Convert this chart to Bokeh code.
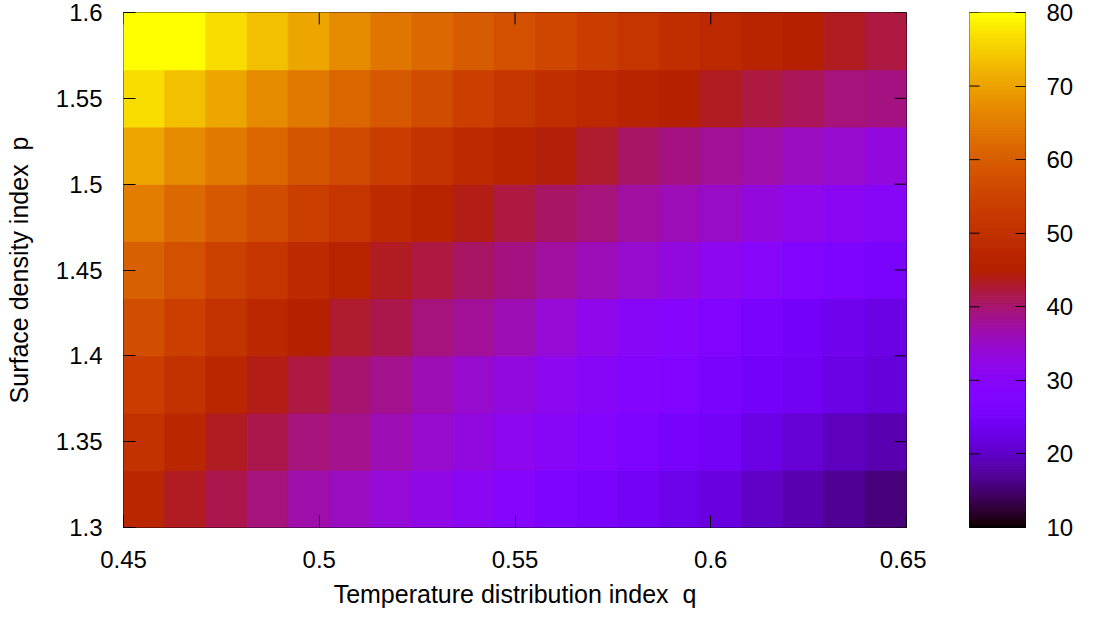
import numpy as np
from bokeh.plotting import figure
from bokeh.layouts import row
from bokeh.models import Range1d, FixedTicker, ColumnDataSource
from bokeh.transform import linear_cmap
from bokeh.embed import file_html
from bokeh.resources import INLINE

# ---- axis ranges and tick labels ----
q_range = (0.45, 0.65)
p_range = (1.3, 1.6)
cb_range = (10, 80)

q_ticks = [0.45, 0.5, 0.55, 0.6, 0.65]
q_tick_labels = ["0.45", "0.5", "0.55", "0.6", "0.65"]
p_ticks = [1.3, 1.35, 1.4, 1.45, 1.5, 1.55, 1.6]
p_tick_labels = ["1.3", "1.35", "1.4", "1.45", "1.5", "1.55", "1.6"]
cb_ticks = [10, 20, 30, 40, 50, 60, 70, 80]
cb_tick_labels = ["10", "20", "30", "40", "50", "60", "70", "80"]

# ---- map values, one row per p band (lowest p first), 19 q bands each ----
row_p1 = [47, 43.5, 41.5, 39.5, 37, 35.5, 34, 32.5, 31, 29, 27, 26, 24.5, 23, 22, 20, 18.5, 17, 15.5]
row_p2 = [50.5, 47, 43.5, 41.5, 39.5, 38.5, 36.5, 34.5, 33, 31.5, 30, 28.5, 27, 25.5, 24.5, 22.5, 21, 19.5, 18.5]
row_p3 = [53.5, 50.5, 47, 44, 42, 40, 38.5, 36.5, 34.5, 33, 31.5, 30, 28.5, 27.5, 26, 25, 24, 22.5, 21.5]
row_p4 = [57, 54, 51, 47.5, 45, 43, 41.5, 39.5, 38, 36.5, 34, 32, 30, 29, 27.5, 26, 25, 23.5, 22.5]
row_p5 = [60.5, 57.5, 54.5, 51.5, 48.5, 46, 43.5, 42, 40.5, 39, 37.5, 36, 34.5, 33, 31.5, 29.5, 28, 27, 26]
row_p6 = [65, 62, 59, 56.5, 54, 51.5, 48.5, 46.5, 44, 42, 40.5, 39.5, 37.5, 36, 35, 33.5, 32, 31, 30]
row_p7 = [70.5, 67, 64.5, 61.5, 58.5, 56, 53.5, 51, 48.5, 46.5, 44.5, 43, 40.5, 39, 38, 37, 35.5, 34.5, 33.5]
row_p8 = [76.5, 73.5, 70.5, 67, 64.5, 61.5, 59, 56.5, 54, 51.5, 49.5, 48, 46.5, 45, 43.5, 42, 41, 39.5, 39]
row_p9 = [81.5, 80, 76.5, 73.5, 70.5, 67, 64, 62, 59.5, 57.5, 55.5, 53.5, 51.5, 49.5, 48, 46.5, 45, 43.5, 42]

grid = np.array([row_p1, row_p2, row_p3, row_p4, row_p5, row_p6, row_p7, row_p8, row_p9])
n_p, n_q = grid.shape


def rgbformulae_7_5_15(x):
    """gnuplot's default pm3d palette: sqrt(x), x^3, sin(2*pi*x)."""
    r = np.sqrt(x)
    g = x ** 3
    b = np.clip(np.sin(2 * np.pi * x), 0, 1)
    return "#%02x%02x%02x" % tuple(int(round(255 * c)) for c in (r, g, b))


palette = [rgbformulae_7_5_15(x) for x in np.linspace(0, 1, 256)]

q_edges = np.linspace(*q_range, n_q + 1)
p_edges = np.linspace(*p_range, n_p + 1)
jj, ii = np.meshgrid(np.arange(n_p), np.arange(n_q), indexing="ij")
cells = ColumnDataSource(dict(
    left=q_edges[ii.ravel()], right=q_edges[ii.ravel() + 1],
    bottom=p_edges[jj.ravel()], top=p_edges[jj.ravel() + 1],
    value=grid.ravel(),
))
cmap = linear_cmap("value", palette, cb_range[0], cb_range[1])

FONT = "Liberation Sans"
TICK_SIZE = "24px"
LABEL_SIZE = "25px"

FRAME_W, FRAME_H = 783, 515
TICK_LEN = 12
CB_W, CB_TICK_LEN = 56, 10


def style_axis(ax, tick_len, standoff):
    ax.major_tick_in = tick_len
    ax.major_tick_out = 0
    ax.minor_tick_line_color = None
    ax.major_tick_line_color = "black"
    ax.major_tick_line_width = 1
    ax.axis_line_color = None
    ax.major_label_text_font = FONT
    ax.major_label_text_color = "black"
    ax.major_label_text_font_size = TICK_SIZE
    ax.major_label_standoff = standoff


# ---- main map ----
p = figure(
    frame_width=FRAME_W, frame_height=FRAME_H,
    x_range=Range1d(*q_range), y_range=Range1d(*p_range),
    min_border_left=123, min_border_right=20, min_border_top=12, min_border_bottom=91,
    output_backend="svg", toolbar_location=None,
    x_axis_label="Temperature distribution index \u00a0q",
    y_axis_label="Surface density index \u00a0p",
)
p.grid.visible = False
p.outline_line_color = "black"
p.outline_line_width = 1
p.outline_line_alpha = 1
p.background_fill_color = "white"
p.border_fill_color = "white"

p.quad(left="left", right="right", bottom="bottom", top="top", source=cells,
       fill_color=cmap, line_color=cmap, line_width=1)

# mirrored tick marks on the top and right edges of the frame
dy = TICK_LEN * (p_range[1] - p_range[0]) / FRAME_H
dx = TICK_LEN * (q_range[1] - q_range[0]) / FRAME_W
p.segment(x0=q_ticks, x1=q_ticks, y0=[p_range[1]] * len(q_ticks),
          y1=[p_range[1] - dy] * len(q_ticks), line_color="black", line_width=1)
p.segment(x0=[q_range[1]] * len(p_ticks), x1=[q_range[1] - dx] * len(p_ticks),
          y0=p_ticks, y1=p_ticks, line_color="black", line_width=1)

p.xaxis.ticker = FixedTicker(ticks=q_ticks)
p.xaxis.major_label_overrides = dict(zip(q_ticks, q_tick_labels))
p.yaxis.ticker = FixedTicker(ticks=p_ticks)
p.yaxis.major_label_overrides = dict(zip(p_ticks, p_tick_labels))
style_axis(p.xaxis[0], TICK_LEN, 23)
style_axis(p.yaxis[0], TICK_LEN, 21)
for ax, std in ((p.xaxis[0], 9), (p.yaxis[0], 20)):
    ax.axis_label_text_font = FONT
    ax.axis_label_text_font_size = LABEL_SIZE
    ax.axis_label_text_font_style = "normal"
    ax.axis_label_text_color = "black"
    ax.axis_label_standoff = std

# ---- colour bar ----
levels = np.linspace(cb_range[0], cb_range[1], 257)
strips = ColumnDataSource(dict(
    bottom=levels[:-1], top=levels[1:], mid=0.5 * (levels[:-1] + levels[1:]),
))
cb = figure(
    frame_width=CB_W, frame_height=FRAME_H,
    x_range=Range1d(0, 1), y_range=Range1d(*cb_range),
    min_border_left=43, min_border_right=69, min_border_top=12, min_border_bottom=91,
    output_backend="svg", toolbar_location=None,
    x_axis_location=None, y_axis_location="right",
)
cb.grid.visible = False
cb.outline_line_color = "black"
cb.outline_line_width = 1
cb.outline_line_alpha = 1
cb.border_fill_color = "white"
scmap = linear_cmap("mid", palette, cb_range[0], cb_range[1])
cb.quad(left=0, right=1, bottom="bottom", top="top", source=strips,
        fill_color=scmap, line_color=scmap, line_width=1)
# tick marks on the left edge of the bar
cb.segment(x0=[0] * len(cb_ticks), x1=[CB_TICK_LEN / CB_W] * len(cb_ticks),
           y0=cb_ticks, y1=cb_ticks, line_color="black", line_width=1)

cb.yaxis.ticker = FixedTicker(ticks=cb_ticks)
cb.yaxis.major_label_overrides = dict(zip(cb_ticks, cb_tick_labels))
style_axis(cb.yaxis[0], CB_TICK_LEN, 21)

layout = row(p, cb, spacing=0)
open("out.html", "w").write(file_html(layout, INLINE))
